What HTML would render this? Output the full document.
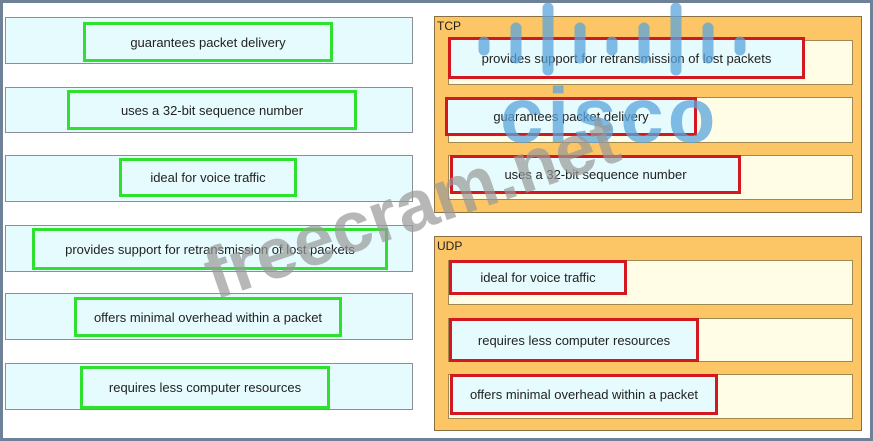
<!DOCTYPE html>
<html><head><style>
body{margin:0;width:873px;height:441px;overflow:hidden;background:#6e8196;font-family:"Liberation Sans",sans-serif;}
#f{position:absolute;left:3px;top:3px;width:867px;height:435px;background:#fff;}
.b{position:absolute;box-sizing:border-box;}
.l{background:#e6fbfd;border:1.5px solid #8a8f96;}
.g{border:3px solid #2fe02f;background:#e6fbfd;display:flex;align-items:center;justify-content:center;font-size:13px;color:#222;}
.p{background:#fcc565;border:1.5px solid #8a7040;}
.s{background:#fffde6;border:1.5px solid #a08a50;}
.r{border:3px solid #d41820;background:#e6fbfd;display:flex;align-items:center;justify-content:center;font-size:13px;color:#222;}
.t{position:absolute;font-size:12px;color:#222;}
</style></head><body>
<div id="f"></div>
<div class="b l" style="left:5px;top:17px;width:408px;height:47px"></div>
<div class="b l" style="left:5px;top:87px;width:408px;height:46px"></div>
<div class="b l" style="left:5px;top:155px;width:408px;height:47px"></div>
<div class="b l" style="left:5px;top:225px;width:408px;height:47px"></div>
<div class="b l" style="left:5px;top:293px;width:408px;height:47px"></div>
<div class="b l" style="left:5px;top:363px;width:408px;height:47px"></div>
<div class="b g" style="left:83px;top:22px;width:250px;height:40px">guarantees packet delivery</div>
<div class="b g" style="left:67px;top:90px;width:290px;height:40px">uses a 32-bit sequence number</div>
<div class="b g" style="left:119px;top:158px;width:178px;height:39px">ideal for voice traffic</div>
<div class="b g" style="left:32px;top:228px;width:356px;height:42px">provides support for retransmission of lost packets</div>
<div class="b g" style="left:74px;top:297px;width:268px;height:40px">offers minimal overhead within a packet</div>
<div class="b g" style="left:80px;top:366px;width:250px;height:43px">requires less computer resources</div>

<div class="b p" style="left:434px;top:16px;width:428px;height:197px"></div>
<div class="t" style="left:437px;top:19px">TCP</div>
<div class="b s" style="left:448px;top:40px;width:405px;height:45px"></div>
<div class="b s" style="left:448px;top:97px;width:405px;height:46px"></div>
<div class="b s" style="left:448px;top:155px;width:405px;height:45px"></div>
<div class="b r" style="left:448px;top:37px;width:357px;height:42px">provides support for retransmission of lost packets</div>
<div class="b r" style="left:445px;top:97px;width:252px;height:39px">guarantees packet delivery</div>
<div class="b r" style="left:450px;top:155px;width:291px;height:39px">uses a 32-bit sequence number</div>

<div class="b p" style="left:434px;top:236px;width:428px;height:195px"></div>
<div class="t" style="left:437px;top:239px">UDP</div>
<div class="b s" style="left:448px;top:260px;width:405px;height:45px"></div>
<div class="b s" style="left:448px;top:318px;width:405px;height:44px"></div>
<div class="b s" style="left:448px;top:374px;width:405px;height:45px"></div>
<div class="b r" style="left:449px;top:260px;width:178px;height:35px">ideal for voice traffic</div>
<div class="b r" style="left:449px;top:318px;width:250px;height:44px">requires less computer resources</div>
<div class="b r" style="left:450px;top:374px;width:268px;height:41px">offers minimal overhead within a packet</div>

<svg width="873" height="441" style="position:absolute;left:0;top:0" >
<g stroke="#5aa5dc" stroke-width="11" stroke-linecap="round" opacity="0.75">
<line x1="484" y1="42" x2="484" y2="50"/><line x1="516" y1="28" x2="516" y2="58"/>
<line x1="548" y1="8" x2="548" y2="70"/><line x1="580" y1="28" x2="580" y2="58"/>
<line x1="612" y1="42" x2="612" y2="50"/><line x1="644" y1="28" x2="644" y2="58"/>
<line x1="676" y1="8" x2="676" y2="70"/><line x1="708" y1="28" x2="708" y2="58"/>
<line x1="740" y1="42" x2="740" y2="50"/>
</g>
<text x="500" y="142" font-family="Liberation Sans" font-weight="bold" font-size="78" fill="#5aa5dc" opacity="0.75" letter-spacing="4">cisco</text>
<text x="215" y="300" transform="rotate(-19 215 300)" font-family="Liberation Sans" font-weight="bold" font-size="72" fill="#999" opacity="0.7">freecram.net</text>
</svg>
</body></html>
